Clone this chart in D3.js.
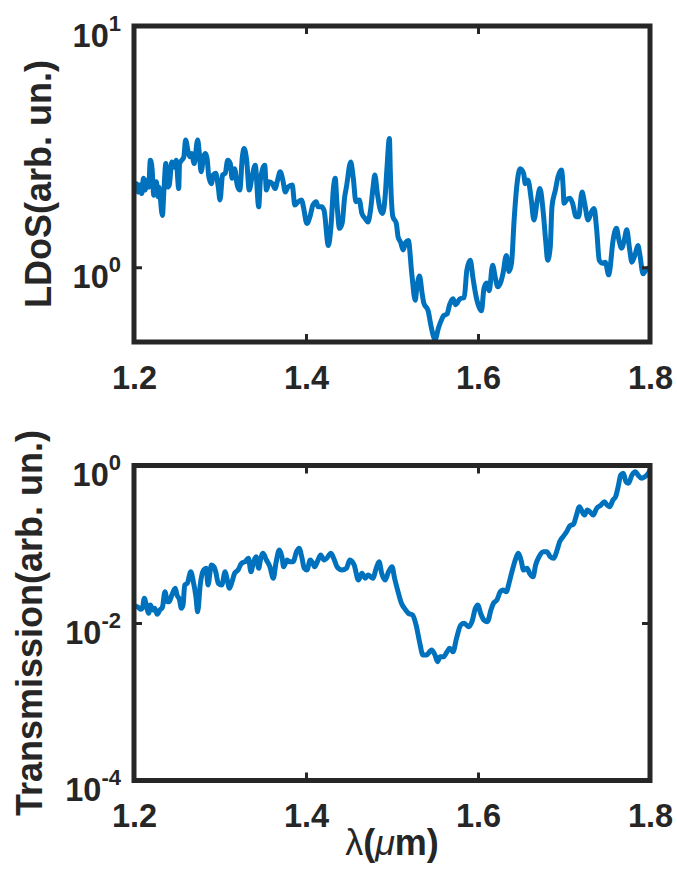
<!DOCTYPE html>
<html>
<head>
<meta charset="UTF-8">
<title>LDoS and Transmission</title>
<script src="https://d3js.org/d3.v7.min.js"></script>
<style>
  body { margin: 0; background: #fff; }
  text { font-family: "Liberation Sans", Arial, Helvetica, sans-serif; fill: #262626; }
</style>
</head>
<body>
<div id="chart"></div>
<script>
// wavelength (µm) and LDoS values of the upper panel
const wavelengthTop = [1.200,1.203,1.205,1.207,1.209,1.211,1.213,1.215,1.217,1.219,1.221,1.223,1.226,1.228,1.229,1.233,1.235,1.237,1.239,1.241,
  1.244,1.247,1.249,1.252,1.253,1.257,1.258,1.260,1.263,1.265,1.267,1.270,1.274,1.276,1.278,1.281,1.283,1.285,1.287,1.290,
  1.292,1.295,1.298,1.300,1.303,1.306,1.309,1.312,1.314,1.317,1.320,1.323,1.326,1.328,1.331,1.334,1.337,1.341,1.345,1.347,
  1.352,1.354,1.357,1.361,1.364,1.367,1.370,1.373,1.376,1.379,1.384,1.387,1.391,1.395,1.397,1.401,1.405,1.408,1.412,1.414,
  1.418,1.421,1.426,1.429,1.432,1.434,1.436,1.439,1.442,1.445,1.447,1.452,1.455,1.458,1.462,1.465,1.469,1.472,1.475,1.478,
  1.480,1.483,1.486,1.489,1.492,1.494,1.497,1.498,1.501,1.505,1.507,1.510,1.513,1.516,1.519,1.523,1.527,1.529,1.532,1.535,
  1.537,1.542,1.545,1.548,1.550,1.554,1.558,1.560,1.564,1.567,1.571,1.574,1.579,1.584,1.587,1.591,1.594,1.598,1.604,1.607,
  1.610,1.613,1.617,1.620,1.623,1.627,1.629,1.633,1.636,1.639,1.642,1.645,1.649,1.653,1.655,1.658,1.662,1.665,1.669,1.672,
  1.676,1.679,1.681,1.684,1.686,1.690,1.693,1.697,1.699,1.700,1.703,1.707,1.710,1.714,1.717,1.721,1.724,1.728,1.732,1.735,
  1.738,1.741,1.745,1.748,1.752,1.753,1.757,1.761,1.764,1.767,1.770,1.773,1.776,1.779,1.783,1.786,1.788,1.792,1.795,1.798,1.800];
const ldos = [2.15,2.22,2.05,2.19,2.02,2.34,2.09,2.30,2.15,2.78,2.56,1.99,2.26,1.96,2.15,1.64,2.15,2.69,2.15,2.19,
  2.73,2.60,2.78,2.12,2.69,2.82,2.87,3.37,3.01,2.87,2.96,2.69,3.37,2.96,2.49,2.87,2.96,2.82,2.37,2.22,
  2.41,2.45,2.15,1.90,2.41,2.45,2.78,2.69,2.34,2.56,2.19,2.09,2.87,3.11,2.78,2.09,2.34,2.65,1.78,2.30,
  2.65,2.09,2.26,2.22,2.12,2.30,2.49,2.30,2.05,2.15,2.19,1.81,1.87,1.90,1.78,1.52,1.64,1.81,1.87,1.78,
  1.78,1.72,1.23,1.47,2.15,2.34,1.84,1.45,1.52,1.96,2.15,2.73,2.34,1.87,1.90,1.67,1.59,1.54,1.72,2.15,
  2.41,2.02,1.75,1.67,1.96,2.53,3.42,2.53,1.62,1.52,1.34,1.27,1.18,1.27,1.29,0.94,0.73,0.83,0.92,0.78,
  0.71,0.66,0.58,0.52,0.50,0.56,0.61,0.63,0.64,0.70,0.74,0.70,0.74,0.75,0.97,1.07,0.91,0.75,0.66,0.82,
  0.86,0.80,1.02,0.91,0.83,0.88,0.94,1.12,0.96,1.04,1.57,2.15,2.56,2.45,2.22,2.30,1.90,1.57,1.90,2.12,
  1.67,1.25,1.07,1.21,1.78,2.09,2.37,2.53,2.15,1.84,1.90,1.93,1.84,1.62,1.62,2.05,1.84,1.57,1.70,1.75,
  1.43,1.07,1.04,1.05,0.93,0.96,1.29,1.45,1.29,1.20,1.29,1.43,1.21,1.05,1.14,1.23,1.14,0.94,0.97,0.99,0.98];

// wavelength (µm) and transmission values of the lower panel
const wavelengthBottom = [1.200,1.201,1.205,1.208,1.210,1.212,1.215,1.217,1.219,1.222,1.224,1.227,1.230,1.233,1.236,1.239,1.241,1.244,1.248,1.250,
  1.253,1.255,1.257,1.259,1.262,1.266,1.269,1.272,1.274,1.277,1.281,1.284,1.286,1.290,1.293,1.295,1.298,1.302,1.306,1.308,
  1.311,1.314,1.317,1.321,1.325,1.329,1.333,1.336,1.339,1.342,1.345,1.347,1.350,1.354,1.358,1.362,1.365,1.369,1.372,1.374,
  1.378,1.381,1.385,1.389,1.392,1.395,1.398,1.401,1.405,1.408,1.410,1.414,1.417,1.421,1.424,1.429,1.433,1.436,1.442,1.447,
  1.451,1.456,1.461,1.465,1.469,1.472,1.478,1.481,1.485,1.488,1.492,1.496,1.500,1.503,1.507,1.511,1.515,1.519,1.524,1.528,
  1.532,1.536,1.540,1.546,1.550,1.553,1.556,1.560,1.564,1.567,1.571,1.575,1.580,1.584,1.589,1.593,1.597,1.600,1.603,1.607,
  1.611,1.615,1.618,1.622,1.626,1.629,1.633,1.636,1.640,1.644,1.647,1.650,1.653,1.657,1.660,1.664,1.667,1.671,1.676,1.680,
  1.684,1.688,1.692,1.695,1.699,1.703,1.707,1.711,1.714,1.718,1.722,1.724,1.727,1.730,1.734,1.738,1.743,1.747,1.750,1.753,
  1.757,1.760,1.763,1.766,1.769,1.772,1.775,1.779,1.783,1.786,1.790,1.794,1.798,1.800];
const transmission = [0.0154,0.0164,0.0158,0.0149,0.0158,0.0206,0.0154,0.0133,0.0169,0.0146,0.0154,0.0129,0.0146,0.0158,0.0250,0.0186,0.0186,0.0227,0.0276,0.0227,
  0.0196,0.0154,0.0169,0.0304,0.0319,0.0448,0.0334,0.0216,0.0139,0.0304,0.0471,0.0495,0.0304,0.0545,0.0519,0.0448,0.0319,0.0304,0.0448,0.0370,
  0.0276,0.0334,0.0428,0.0471,0.0573,0.0600,0.0663,0.0448,0.0600,0.0695,0.0495,0.0631,0.0767,0.0631,0.0519,0.0370,0.0573,0.0845,0.0695,0.0519,
  0.0631,0.0600,0.0600,0.0804,0.0888,0.0695,0.0495,0.0471,0.0631,0.0573,0.0519,0.0631,0.0730,0.0631,0.0663,0.0767,0.0631,0.0519,0.0471,0.0495,
  0.0631,0.0545,0.0352,0.0428,0.0370,0.0407,0.0370,0.0471,0.0600,0.0428,0.0352,0.0448,0.0519,0.0370,0.0250,0.0178,0.0151,0.0133,0.0126,0.00944,
  0.00579,0.00392,0.00392,0.00454,0.00392,0.00323,0.00373,0.00373,0.00432,0.00477,0.00432,0.00639,0.00944,0.00991,0.00897,0.0104,0.0154,0.0169,0.0133,0.0109,
  0.0104,0.0146,0.0178,0.0196,0.0250,0.0262,0.0250,0.0319,0.0471,0.0663,0.0767,0.0631,0.0471,0.0495,0.0428,0.0387,0.0545,0.0695,0.0804,0.0804,
  0.0695,0.0663,0.0845,0.108,0.125,0.144,0.172,0.179,0.224,0.300,0.247,0.235,0.272,0.259,0.235,0.286,0.315,0.347,0.315,0.300,
  0.365,0.402,0.538,0.757,0.796,0.623,0.594,0.757,0.834,0.757,0.688,0.721,0.796,0.877];

const xTicks = [1.2, 1.4, 1.6, 1.8];
const ldosTicks = [1, 10];
const transTicks = [1e-4, 1e-2, 1];

const width = 677, height = 870;
const axisColor = "#262626", lineColor = "#0072BD";
const left = 134, plotW = 516;

const svg = d3.select("#chart").append("svg")
  .attr("width", width).attr("height", height);
svg.append("rect").attr("width", width).attr("height", height).attr("fill", "#fff");

const x = d3.scaleLinear().domain([1.2, 1.8]).range([0, plotW]);

const panels = [
  {id: "top", top: 26, h: 316, domain: [0.49, 10], xs: wavelengthTop, ys: ldos,
   ticks: ldosTicks, label: "LDoS(arb. un.)", labelX: 51},
  {id: "bot", top: 465.5, h: 315, domain: [1e-4, 1], xs: wavelengthBottom, ys: transmission,
   ticks: transTicks, label: "Transmission(arb. un.)", labelX: 42}
];

panels.forEach(p => {
  const y = d3.scaleLog().domain(p.domain).range([p.h, 0]);
  const g = svg.append("g").attr("transform", `translate(${left},${p.top})`);

  g.append("clipPath").attr("id", "clip-" + p.id)
    .append("rect").attr("width", plotW).attr("height", p.h);

  const pts = p.xs.map((v, i) => [v, p.ys[i]]);
  g.append("path")
    .datum(pts)
    .attr("clip-path", `url(#clip-${p.id})`)
    .attr("fill", "none")
    .attr("stroke", lineColor)
    .attr("stroke-width", 5)
    .attr("stroke-linejoin", "round")
    .attr("d", d3.line().x(d => x(d[0])).y(d => y(d[1])).curve(d3.curveMonotoneX));

  // axes: ticks point inward
  const xb = g.append("g").attr("transform", `translate(0,${p.h})`)
    .call(d3.axisBottom(x).tickValues(xTicks).tickSizeInner(-8).tickSizeOuter(0)
      .tickPadding(23.5).tickFormat(d3.format(".1f")));
  g.append("g")
    .call(d3.axisTop(x).tickValues(xTicks).tickSizeInner(-8).tickSizeOuter(0).tickFormat(""));
  const yl = g.append("g")
    .call(d3.axisLeft(y).tickValues(p.ticks).tickSizeInner(-8).tickSizeOuter(0).tickPadding(13));
  g.append("g").attr("transform", `translate(${plotW},0)`)
    .call(d3.axisRight(y).tickValues(p.ticks).tickSizeInner(-8).tickSizeOuter(0).tickFormat(""));

  g.selectAll(".domain").remove();
  g.selectAll(".tick line").attr("stroke", axisColor).attr("stroke-width", 3);
  g.selectAll(".tick text")
    .attr("fill", axisColor)
    .style("font-family", "'Liberation Sans', Arial, sans-serif")
    .style("font-weight", "bold")
    .style("font-size", "32.5px");

  // power-of-ten labels with superscripts
  yl.selectAll(".tick text").each(function(d) {
    const t = d3.select(this).text(null).attr("dy", "20px");
    t.append("tspan").text("10");
    t.append("tspan").attr("dy", -16).style("font-size", "22px")
      .text(String(Math.round(Math.log10(d))));
  });

  g.append("rect")
    .attr("width", plotW).attr("height", p.h)
    .attr("fill", "none").attr("stroke", axisColor).attr("stroke-width", 5);

  svg.append("text")
    .attr("transform", `translate(${p.labelX},${p.top + p.h / 2}) rotate(-90)`)
    .attr("text-anchor", "middle")
    .style("font-weight", "bold")
    .style("font-size", "36px")
    .text(p.label);
});

// x label: λ(μm)
const xl = svg.append("text")
  .attr("x", left + plotW / 2).attr("y", 855)
  .attr("text-anchor", "middle")
  .style("font-size", "36px");
xl.append("tspan").text("λ");
xl.append("tspan").style("font-weight", "bold").text("(");
xl.append("tspan").style("font-style", "italic").text("μ");
xl.append("tspan").style("font-weight", "bold").text("m)");
</script>
</body>
</html>
